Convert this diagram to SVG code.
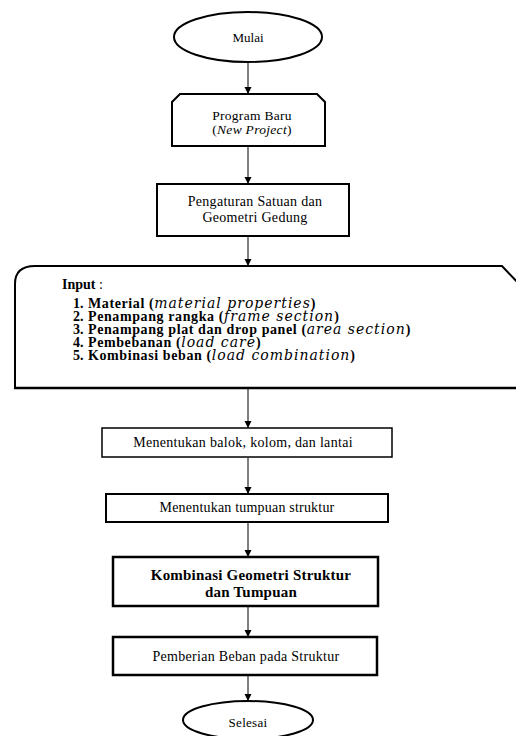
<svg xmlns="http://www.w3.org/2000/svg" width="516" height="736" viewBox="0 0 516 736">
<style>
.s{fill:#fff;stroke:#000;stroke-width:2}
.t{font-size:14px;fill:#000;text-anchor:middle;letter-spacing:0.3px}
.l{font-size:14px;fill:#000;font-weight:bold;letter-spacing:0.6px}
.n{letter-spacing:0}
.i{font-family:"DejaVu Serif",serif;font-size:14px;font-style:italic;font-weight:normal;letter-spacing:1px}
.c{stroke:#000;stroke-width:1;fill:none;marker-end:url(#ah)}
</style>
<defs>
<marker id="ah" markerWidth="8" markerHeight="8" refX="6" refY="3.5" orient="auto" markerUnits="userSpaceOnUse">
<path d="M0,0 L7,3.5 L0,7 Z" fill="#000"/>
</marker>
</defs>
<rect width="516" height="736" fill="#fff"/>
<g id="connectors">
<line class="c" x1="248" y1="62" x2="248" y2="93"/>
<line class="c" x1="248" y1="147" x2="248" y2="183"/>
<line class="c" x1="248" y1="237" x2="248" y2="265"/>
<line class="c" x1="248" y1="389" x2="248" y2="427"/>
<line class="c" x1="248" y1="458" x2="248" y2="493"/>
<line class="c" x1="248" y1="522" x2="248" y2="556"/>
<line class="c" x1="248" y1="607" x2="248" y2="636"/>
<line class="c" x1="248" y1="676" x2="248" y2="700"/>
</g>
<g font-family="'Liberation Serif', 'DejaVu Serif', serif">
<g id="mulai">
<ellipse class="s" cx="248" cy="37" rx="74" ry="25"/>
<text class="t" x="248" y="42" style="font-size:13px;letter-spacing:0">Mulai</text>
</g>
<g id="program-baru">
<path class="s" d="M172,146 L172,102 L180,94 L317,94 L325,102 L325,146 Z"/>
<text class="t" x="252" y="120" style="font-size:13.5px">Program Baru</text>
<text class="t" x="252" y="134" style="font-size:13.5px">(<tspan font-style="italic">New Project</tspan>)</text>
</g>
<g id="pengaturan">
<rect class="s" x="157" y="184" width="192" height="52"/>
<text class="t" x="255" y="206">Pengaturan Satuan dan</text>
<text class="t" x="255" y="222">Geometri Gedung</text>
</g>
<g id="input">
<path class="s" d="M15,388 L15,284 Q15,266 35,266 L502,266 L520,285 L520,388 Z"/>
<line x1="14" y1="388" x2="516" y2="388" stroke="#000" stroke-width="2.5"/>
<text class="l" x="62" y="289" style="letter-spacing:0">Input <tspan font-weight="normal">:</tspan></text>
<text class="l" y="308"><tspan class="n" x="73">1.</tspan><tspan x="88">Material (</tspan><tspan class="i">material properties</tspan>)</text>
<text class="l" y="321"><tspan class="n" x="73">2.</tspan><tspan x="88">Penampang rangka (</tspan><tspan class="i">frame section</tspan>)</text>
<text class="l" y="334"><tspan class="n" x="73">3.</tspan><tspan x="88">Penampang plat dan drop panel (</tspan><tspan class="i">area section</tspan>)</text>
<text class="l" y="347"><tspan class="n" x="73">4.</tspan><tspan x="88">Pembebanan (</tspan><tspan class="i">load care</tspan>)</text>
<text class="l" y="360"><tspan class="n" x="73">5.</tspan><tspan x="88">Kombinasi beban (</tspan><tspan class="i">load combination</tspan>)</text>
</g>
<g id="menentukan-balok">
<rect x="102" y="428" width="290" height="29" fill="#fff" stroke="#000" stroke-width="1.5"/>
<text class="t" x="243" y="447">Menentukan balok, kolom, dan lantai</text>
</g>
<g id="menentukan-tumpuan">
<rect class="s" x="106" y="494" width="282" height="28"/>
<text class="t" x="247" y="512" style="letter-spacing:0.2px">Menentukan tumpuan struktur</text>
</g>
<g id="kombinasi">
<rect x="113" y="557" width="265" height="49" fill="#fff" stroke="#000" stroke-width="2.5"/>
<text class="t" x="251" y="580" style="font-size:15px;font-weight:bold;letter-spacing:0.2px">Kombinasi Geometri Struktur</text>
<text class="t" x="251" y="597" style="font-size:15px;font-weight:bold;letter-spacing:0.2px">dan Tumpuan</text>
</g>
<g id="pemberian">
<rect x="113" y="637" width="264" height="38" fill="#fff" stroke="#000" stroke-width="2.5"/>
<text class="t" x="246" y="661">Pemberian Beban pada Struktur</text>
</g>
<g id="selesai">
<ellipse class="s" cx="248" cy="720" rx="65" ry="19"/>
<text class="t" x="248" y="727" style="font-size:13px;letter-spacing:0.3px">Selesai</text>
</g>
</g>
</svg>
